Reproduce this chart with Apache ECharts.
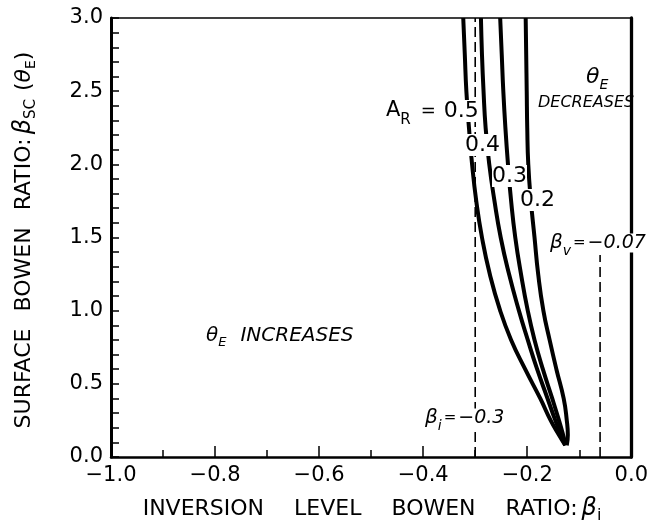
<!DOCTYPE html>
<html>
<head>
<meta charset="utf-8">
<script src="https://cdn.jsdelivr.net/npm/echarts@6/dist/echarts.min.js"></script>
<style>
  html, body { margin: 0; padding: 0; background: #fff; }
  #main { width: 651px; height: 531px; }
</style>
</head>
<body>
<div id="main"></div>
<script>
// values (y = surface Bowen ratio, x = inversion level Bowen ratio)
var yLevels  = [3.0, 2.75, 2.5, 2.25, 2.0, 1.75, 1.5, 1.25, 1.0, 0.8, 0.6, 0.4, 0.25, 0.15, 0.08];
var curveA05 = [-0.323, -0.320, -0.317, -0.312, -0.306, -0.298, -0.287, -0.272, -0.252, -0.231, -0.204, -0.175, -0.155, -0.139, -0.127];
var curveA04 = [-0.289, -0.287, -0.284, -0.280, -0.273, -0.263, -0.251, -0.235, -0.216, -0.199, -0.181, -0.161, -0.146, -0.135, -0.127];
var curveA03 = [-0.252, -0.249, -0.246, -0.242, -0.237, -0.231, -0.223, -0.212, -0.199, -0.186, -0.170, -0.152, -0.139, -0.131, -0.126];
var curveA02 = [-0.203, -0.202, -0.201, -0.200, -0.198, -0.193, -0.186, -0.179, -0.169, -0.157, -0.144, -0.130, -0.124, -0.122, -0.124];
var betaI = -0.3;        // dashed line beta_i
var betaV = -0.06;       // dashed line beta_v (as drawn)
var betaVTop = 1.38;

var FONT = '"DejaVu Sans", sans-serif';
var measure = document.createElement('canvas').getContext('2d');

function pairs(xs) {
    return xs.map(function (x, i) { return [x, yLevels[i]]; });
}
function fmt(v) {
    return v.toFixed(1).replace('-', '\u2212');
}

// lay out a row of text pieces (for subscripts), returns a graphic group
function row(pieces, x, y, opt) {
    opt = opt || {};
    var cursor = 0, kids = [];
    pieces.forEach(function (p) {
        var font = (p.italic ? 'italic ' : '') + p.size + 'px ' + FONT;
        measure.font = font;
        var w = measure.measureText(p.t).width;
        if (p.gap) cursor += p.gap;
        kids.push({
            type: 'text', x: cursor, y: p.dy || 0, z: 100,
            style: {
                text: p.t, font: font, fill: '#000',
                align: 'left', verticalAlign: 'middle',
                backgroundColor: p.bg ? '#fff' : null
            }
        });
        cursor += w;
    });
    if (opt.center) {
        kids.forEach(function (k) { k.x -= cursor / 2; });
    }
    return { type: 'group', x: x, y: y, rotation: opt.rotation || 0, z: 100, children: kids };
}

var chart = echarts.init(document.getElementById('main'), null, { renderer: 'canvas' });

function curve(name, xs) {
    return {
        name: name, type: 'line', data: pairs(xs), smooth: 0.5,
        showSymbol: false, clip: true, z: 3,
        lineStyle: { color: '#000', width: 4 }
    };
}

var option = {
    backgroundColor: '#fff',
    animation: false,
    grid: { left: 111, right: 17, top: 18, bottom: 74 },
    xAxis: [{
        type: 'value', min: -1, max: 0, interval: 0.2, position: 'bottom',
        axisLine: { show: true, onZero: false, lineStyle: { color: '#000', width: 2.5 } },
        axisTick: { show: true, inside: true, length: 11, lineStyle: { color: '#000', width: 1.5 } },
        minorTick: { show: true, splitNumber: 2, length: 7, lineStyle: { color: '#000', width: 1.5 } },
        axisLabel: { color: '#000', fontSize: 21, fontFamily: FONT, margin: 8, formatter: fmt },
        splitLine: { show: false }
    }, {
        type: 'value', min: -1, max: 0, position: 'top',
        axisLine: { show: true, onZero: false, lineStyle: { color: '#000', width: 1.7 } },
        axisTick: { show: false }, axisLabel: { show: false }, splitLine: { show: false }
    }],
    yAxis: [{
        type: 'value', min: 0, max: 3, interval: 0.5, position: 'left',
        axisLine: { show: true, onZero: false, lineStyle: { color: '#000', width: 3 } },
        axisTick: { show: true, inside: true, length: 8, lineStyle: { color: '#000', width: 1.5 } },
        minorTick: { show: true, splitNumber: 5, length: 8, lineStyle: { color: '#000', width: 1.5 } },
        axisLabel: { color: '#000', fontSize: 21, fontFamily: FONT, margin: 8, formatter: fmt },
        splitLine: { show: false }
    }, {
        type: 'value', min: 0, max: 3, position: 'right',
        axisLine: { show: true, onZero: false, lineStyle: { color: '#000', width: 3.3 } },
        axisTick: { show: false }, axisLabel: { show: false }, splitLine: { show: false }
    }],
    series: [
        curve('0.5', curveA05),
        curve('0.4', curveA04),
        curve('0.3', curveA03),
        curve('0.2', curveA02),
        {
            type: 'line', data: [[betaI, 0], [betaI, 3]], showSymbol: false, z: 2,
            lineStyle: { color: '#000', width: 1.6, type: [10, 5] }
        },
        {
            type: 'line', data: [[betaV, 0], [betaV, betaVTop]], showSymbol: false, z: 2,
            lineStyle: { color: '#000', width: 1.6, type: [10, 5] }
        }
    ],
    graphic: [
        // A_R = 0.5 and the curve labels
        row([{ t: 'A', size: 21 }, { t: 'R', size: 15, dy: 9 }, { t: '=', size: 18, gap: 10 },
             { t: '0.5', size: 22, gap: 8, bg: true }], 386, 111),
        row([{ t: '0.4', size: 22, bg: true }], 465, 145),
        row([{ t: '0.3', size: 22, bg: true }], 492, 176),
        row([{ t: '0.2', size: 22, bg: true }], 520, 200),
        // region notes
        row([{ t: '\u03b8', size: 22, italic: true }, { t: 'E', size: 14, italic: true, dy: 8 }], 586, 77),
        row([{ t: 'DECREASES', size: 16, italic: true }], 538, 103),
        row([{ t: '\u03b8', size: 20, italic: true }, { t: 'E', size: 13, italic: true, dy: 7 },
             { t: 'INCREASES', size: 20, italic: true, gap: 14 }], 206, 336),
        row([{ t: '\u03b2', size: 20, italic: true }, { t: 'i', size: 14, italic: true, dy: 8 },
             { t: '=', size: 15, italic: true, gap: 2 }, { t: '\u22120.3', size: 19, italic: true, gap: 2, bg: true }], 425, 418),
        row([{ t: '\u03b2', size: 20, italic: true }, { t: 'v', size: 14, italic: true, dy: 8 },
             { t: '=', size: 15, italic: true, gap: 2 }, { t: '\u22120.07', size: 19, italic: true, gap: 2, bg: true }], 550, 243),
        // axis titles
        row([{ t: 'INVERSION', size: 22 }, { t: 'LEVEL', size: 22, gap: 30 }, { t: 'BOWEN', size: 22, gap: 30 },
             { t: 'RATIO:', size: 22, gap: 30 }, { t: '\u03b2', size: 24, italic: true, gap: 4 },
             { t: 'i', size: 16, dy: 7 }], 372, 509, { center: true }),
        row([{ t: 'SURFACE', size: 22 }, { t: 'BOWEN', size: 22, gap: 17 }, { t: 'RATIO:', size: 22, gap: 17 },
             { t: '\u03b2', size: 24, italic: true, gap: 4 }, { t: 'SC', size: 15, dy: 7 },
             { t: '(', size: 22, gap: 8 }, { t: '\u03b8', size: 22, italic: true }, { t: 'E', size: 14, dy: 7 },
             { t: ')', size: 22 }], 24, 240, { center: true, rotation: Math.PI / 2 })
    ]
};
chart.setOption(option);
</script>
</body>
</html>
